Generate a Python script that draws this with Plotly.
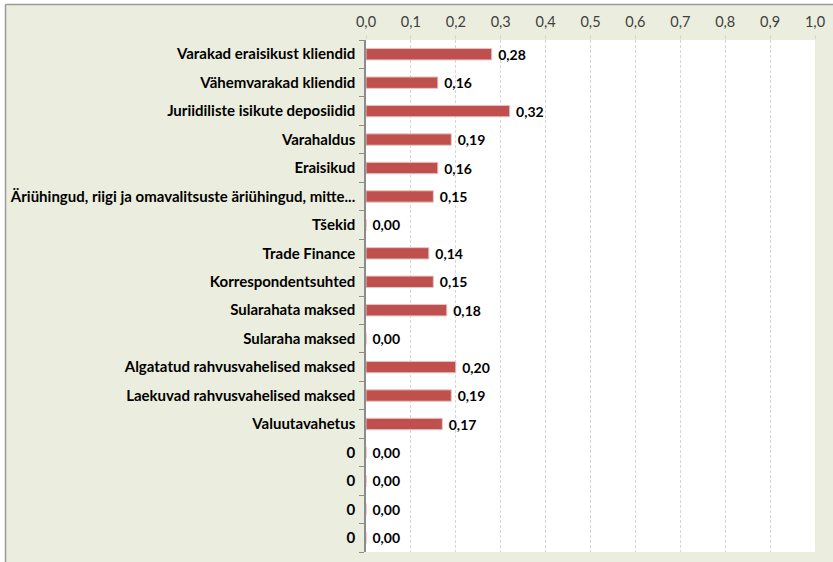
import plotly.graph_objects as go

categories = [
    "Varakad eraisikust kliendid",
    "Vähemvarakad kliendid",
    "Juriidiliste isikute deposiidid",
    "Varahaldus",
    "Eraisikud",
    "Äriühingud, riigi ja omavalitsuste äriühingud, mitte...",
    "Tšekid",
    "Trade Finance",
    "Korrespondentsuhted",
    "Sularahata maksed",
    "Sularaha maksed",
    "Algatatud rahvusvahelised maksed",
    "Laekuvad rahvusvahelised maksed",
    "Valuutavahetus",
    "0",
    "0",
    "0",
    "0",
]
values = [0.28, 0.16, 0.32, 0.19, 0.16, 0.15, 0.00, 0.14, 0.15, 0.18,
          0.00, 0.20, 0.19, 0.17, 0.00, 0.00, 0.00, 0.00]
x_ticks = [0.0, 0.1, 0.2, 0.3, 0.4, 0.5, 0.6, 0.7, 0.8, 0.9, 1.0]

W, H = 833, 562
ML, MR, MT, MB = 366, 18, 40, 10
BG = "#EBEEDE"
FONT = "Lato, Carlito, 'Open Sans', sans-serif"

pos = list(range(len(categories)))

fig = go.Figure()
fig.add_trace(go.Bar(
    y=pos, x=values, orientation="h",
    marker=dict(color="#C0504D", line=dict(color="#E3C6C5", width=1)),
    texttemplate=" %{x:.2f}", textposition="outside",
    constraintext="none",
    textfont=dict(family=FONT, size=14, color="#000000", weight="bold"),
    cliponaxis=False,
    hoverinfo="skip",
))

pw = W - ML - MR
ph = H - MT - MB
def px_x(p):
    return (p - ML) / pw
def px_y(p):
    return 1 - (p - MT) / ph

shapes = [
    dict(type="rect", xref="paper", yref="paper", x0=px_x(0), x1=px_x(W), y0=px_y(0), y1=px_y(4.5),
         fillcolor="white", line=dict(width=0), layer="above"),
    dict(type="rect", xref="paper", yref="paper", x0=px_x(0), x1=px_x(5.5), y0=px_y(0), y1=px_y(H),
         fillcolor="white", line=dict(width=0), layer="above"),
    dict(type="line", xref="paper", yref="paper", x0=px_x(5.5), x1=px_x(W), y0=px_y(4.5), y1=px_y(4.5),
         line=dict(color="#9A9A9A", width=1.5), layer="above"),
    dict(type="line", xref="paper", yref="paper", x0=px_x(5.5), x1=px_x(5.5), y0=px_y(4.5), y1=px_y(H),
         line=dict(color="#9A9A9A", width=1.5), layer="above"),
]

fig.update_layout(
    width=W, height=H,
    margin=dict(l=ML, r=MR, t=MT, b=MB, autoexpand=False),
    paper_bgcolor=BG, plot_bgcolor="white",
    separators=", ",
    bargap=0.6,
    showlegend=False,
    font=dict(family=FONT, size=14, color="#000000"),
    shapes=shapes,
    xaxis=dict(
        side="top", range=[0, 1.0], tickvals=x_ticks, tickformat=".1f",
        showgrid=True, gridcolor="#D6D6D6", griddash="3px,2px", gridwidth=1,
        zeroline=False, showline=False,
        ticks="outside", ticklen=4, tickcolor="#D6D6D6",
        tickfont=dict(family=FONT, size=14.5, color="#404040"),
        ticklabelstandoff=2,
        automargin=False,
        fixedrange=True,
    ),
    yaxis=dict(
        range=[len(categories) - 0.5, -0.5],
        tickvals=pos, ticktext=categories,
        ticks="", showgrid=False, zeroline=False,
        showline=True, linecolor="#8C8C8C", linewidth=1.5,
        tickfont=dict(family=FONT, size=15, color="#000000", weight="bold"),
        minor=dict(tick0=0.5, dtick=1, ticks="outside", ticklen=5, tickcolor="#8C8C8C", showgrid=False),
        ticklabelstandoff=6,
        automargin=False,
        fixedrange=True,
    ),
)

fig.write_html("out.html", config={"displayModeBar": False},
               post_script="document.body.style.margin='0px';")
